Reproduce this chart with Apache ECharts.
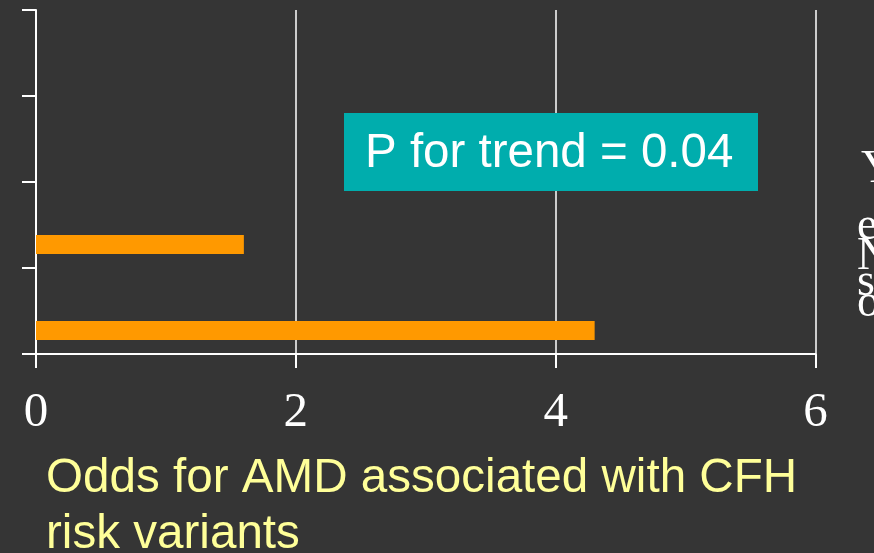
<!DOCTYPE html>
<html>
<head>
<meta charset="utf-8">
<script src="https://cdn.jsdelivr.net/npm/echarts@6/dist/echarts.min.js"></script>
<style>
  html, body { margin: 0; padding: 0; background: #353535; }
  #chart { width: 874px; height: 553px; }
</style>
</head>
<body>
<div id="chart"></div>
<script>
// Risk-variant groups along the vertical axis (bottom to top)
const categories = ['g1', 'g2', 'g3', 'g4'];
// Odds ratios for AMD in each group (missing groups have no bar)
const oddsValues = [4.3, 1.6, null, null];
// Companion series kept empty: it holds the upper slot in each band
const pairedValues = [null, null, null, null];
const xTicks = [0, 2, 4, 6];
const trendLabel = 'P for trend = 0.04';
const axisTitle = 'Odds for AMD associated with CFH\nrisk variants';
// Letters of the partly visible right-hand legend
const sideLetters = ['Y', 'e', 'N', 's', 'o'];
const sideLetterX = [861, 857, 857, 857, 857];
const sideLetterY = [170, 227, 257, 283, 304];

const chart = echarts.init(document.getElementById('chart'));

const serif = '"Liberation Serif", "DejaVu Serif", serif';
const sans = '"Liberation Sans", Arial, sans-serif';

chart.setOption({
  backgroundColor: '#353535',
  animation: false,
  grid: { left: 36, right: 58.5, top: 10, bottom: 199, containLabel: false },
  xAxis: {
    type: 'value',
    min: xTicks[0],
    max: xTicks[xTicks.length - 1],
    interval: 2,
    axisLine: { show: true, lineStyle: { color: '#ffffff', width: 2 } },
    axisTick: { show: true, length: 14, lineStyle: { color: '#ffffff', width: 2 } },
    splitLine: { show: true, lineStyle: { color: '#ffffff', width: 1.5 } },
    axisLabel: {
      color: '#ffffff', fontFamily: serif, fontSize: 49, margin: 35,
      formatter: v => String(v)
    }
  },
  yAxis: {
    type: 'category',
    data: categories,
    axisLine: { show: true, lineStyle: { color: '#ffffff', width: 2 } },
    axisTick: { show: true, length: 14, lineStyle: { color: '#ffffff', width: 2 } },
    axisLabel: { show: false },
    splitLine: { show: false }
  },
  series: [
    {
      type: 'bar', name: 'paired', data: pairedValues,
      barWidth: 19, barGap: '105%',
      itemStyle: { color: 'rgba(0,0,0,0)' }
    },
    {
      type: 'bar', name: 'odds', data: oddsValues,
      barWidth: 19, barGap: '105%',
      itemStyle: { color: '#ff9900' }
    }
  ],
  graphic: [
    {
      type: 'rect',
      shape: { x: 344, y: 113, width: 414, height: 78 },
      style: { fill: '#00adad' },
      z: 10
    },
    {
      type: 'text', x: 365, y: 154, z: 11,
      style: {
        text: trendLabel, fill: '#ffffff', font: '47.5px ' + sans,
        textAlign: 'left', textVerticalAlign: 'middle'
      }
    },
    {
      type: 'text', x: 46, y: 451, z: 11,
      style: {
        text: axisTitle, fill: '#ffff99', font: '47.6px ' + sans,
        lineHeight: 56, textAlign: 'left', textVerticalAlign: 'top'
      }
    }
  ].concat(sideLetters.map((ch, i) => ({
    type: 'text', x: sideLetterX[i], y: sideLetterY[i], z: 11,
    style: {
      text: ch, fill: '#ffffff', font: '46px ' + serif,
      textAlign: 'left', textVerticalAlign: 'middle'
    }
  })))
});
</script>
</body>
</html>
